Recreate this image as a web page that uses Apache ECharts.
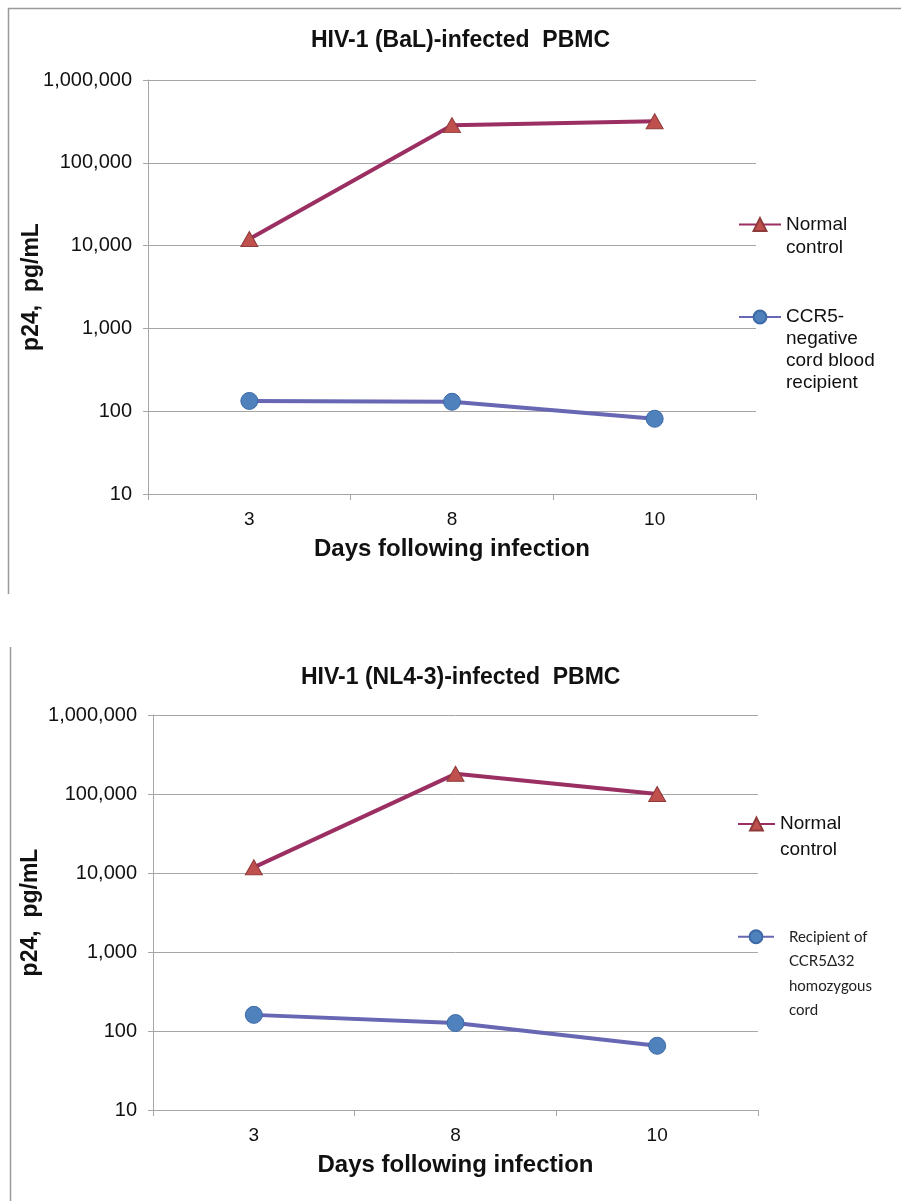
<!DOCTYPE html>
<html>
<head>
<meta charset="utf-8">
<script src="https://cdn.jsdelivr.net/npm/echarts@6/dist/echarts.min.js"></script>
<style>
html,body{margin:0;padding:0;background:#fff;}
#c{width:901px;height:1201px;}
</style>
</head>
<body>
<div id="c"></div>
<script>
// ---- data ----
const days = ['3', '8', '10'];
const balNormal = [12000, 285000, 318000];
const balCCR5 = [133, 130, 81];
const nl43Normal = [11800, 180000, 100000];
const nl43Recipient = [160, 126, 65];
const yTicks = [10, 100, 1000, 10000, 100000, 1000000];
const title1 = 'HIV-1 (BaL)-infected  PBMC';
const title2 = 'HIV-1 (NL4-3)-infected  PBMC';
const yName = 'p24,  pg/mL';
const xName = 'Days following infection';
const nameNormal = 'Normal control';
const nameCCR5 = 'CCR5-negative cord blood recipient';
const nameRecip = 'Recipient of CCR5\u039432 homozygous cord';
const legNormal = ['Normal', 'control'];
const legCCR5 = ['CCR5-', 'negative', 'cord blood', 'recipient'];
const legRecip = ['Recipient of', 'CCR5\u039432', 'homozygous', 'cord'];

const FONT = 'Liberation Sans, Arial, sans-serif';
const redLine = '#9B2F62', redFill = '#C0504D', redBorder = '#8E3A3A';
const blueLine = '#6767B4', blueFill = '#4F81BD', blueBorder = '#3C6AA6';
const gridColor = '#A6A6A6';

function fmt(v){ return Math.round(v).toLocaleString('en-US'); }
// prepend blank lines so the legend icon lines up with the first text line
function legText(lines){
  const pre = [];
  for (let i = 1; i < lines.length; i++) pre.push(' ');
  return pre.concat(lines).join('\n');
}

function xAxisOf(gi){
  return {
    gridIndex: gi, type: 'category', data: days, boundaryGap: true,
    axisLine: {lineStyle: {color: gridColor, width: 1}},
    axisTick: {show: true, length: 6, lineStyle: {color: gridColor}},
    axisLabel: {margin: 16, fontSize: 19, color: '#111', fontFamily: FONT},
    name: xName, nameLocation: 'middle', nameGap: 43, nameMoveOverlap: false,
    nameTextStyle: {fontSize: 24, fontWeight: 'bold', color: '#111', fontFamily: FONT}
  };
}
function yAxisOf(gi, gap){
  return {
    gridIndex: gi, type: 'log', logBase: 10,
    min: yTicks[0], max: yTicks[yTicks.length-1], interval: 1,
    axisLine: {show: true, lineStyle: {color: gridColor, width: 1}},
    axisTick: {show: true, length: 5, lineStyle: {color: gridColor}},
    splitLine: {show: true, lineStyle: {color: gridColor, width: 1}},
    minorTick: {show: false},
    axisLabel: {margin: 16, fontSize: 20, color: '#111', fontFamily: FONT, formatter: fmt},
    name: yName, nameLocation: 'middle', nameGap: gap, nameRotate: 90, nameMoveOverlap: false,
    nameTextStyle: {fontSize: 23, fontWeight: 'bold', color: '#111', fontFamily: FONT}
  };
}
function redSeries(gi, data){
  return {
    name: nameNormal, type: 'line', xAxisIndex: gi, yAxisIndex: gi, data: data,
    symbol: 'triangle', symbolSize: [17, 15], z: 3,
    lineStyle: {color: redLine, width: 4},
    itemStyle: {color: redFill, borderColor: redBorder, borderWidth: 1},
    emphasis: {disabled: true}, animation: false
  };
}
function blueSeries(gi, name, data){
  return {
    name: name, type: 'line', xAxisIndex: gi, yAxisIndex: gi, data: data,
    symbol: 'circle', symbolSize: 17, z: 3,
    lineStyle: {color: blueLine, width: 4},
    itemStyle: {color: blueFill, borderColor: blueBorder, borderWidth: 1},
    emphasis: {disabled: true}, animation: false
  };
}
function legendOf(name, left, top, iw, lines, ts){
  const txt = legText(lines);
  return {
    data: [name], left: left, top: top, padding: 0, orient: 'vertical',
    itemWidth: iw, itemHeight: 16, selectedMode: false,
    formatter: function(){ return txt; },
    textStyle: ts
  };
}

const chart = echarts.init(document.getElementById('c'), null, {renderer: 'canvas'});
chart.setOption({
  backgroundColor: '#fff',
  animation: false,
  title: [
    {text: title1, left: 306, top: 24, textStyle: {fontSize: 23, fontWeight: 'bold', color: '#111', fontFamily: FONT}},
    {text: title2, left: 296, top: 661, textStyle: {fontSize: 23, fontWeight: 'bold', color: '#111', fontFamily: FONT}}
  ],
  grid: [
    {left: 148, right: 145, top: 80, height: 414},
    {left: 153, right: 143, top: 715, height: 395}
  ],
  xAxis: [xAxisOf(0), xAxisOf(1)],
  yAxis: [yAxisOf(0, 105), yAxisOf(1, 111)],
  legend: [
    legendOf(nameNormal, 738, 190, 42, legNormal,
      {fontSize: 19, lineHeight: 23, color: '#111', fontFamily: FONT}),
    legendOf(nameCCR5, 738, 240, 42, legCCR5,
      {fontSize: 19, lineHeight: 22, color: '#111', fontFamily: FONT}),
    legendOf(nameNormal, 737, 785, 37, legNormal,
      {fontSize: 19, lineHeight: 26, color: '#111', fontFamily: FONT}),
    legendOf(nameRecip, 737, 851, 36, legRecip,
      {fontSize: 15, lineHeight: 24.5, color: '#222', fontFamily: 'Lato, sans-serif', padding: [0, 0, 0, 10]})
  ],
  graphic: [
    {type: 'line', shape: {x1: 8, y1: 8.5, x2: 901, y2: 8.5}, style: {stroke: '#9a9a9a', lineWidth: 1.5}, silent: true},
    {type: 'line', shape: {x1: 8.5, y1: 8, x2: 8.5, y2: 594}, style: {stroke: '#9a9a9a', lineWidth: 1.5}, silent: true},
    {type: 'line', shape: {x1: 10.5, y1: 647, x2: 10.5, y2: 1201}, style: {stroke: '#9a9a9a', lineWidth: 1.5}, silent: true}
  ],
  series: [
    redSeries(0, balNormal),
    blueSeries(0, nameCCR5, balCCR5),
    redSeries(1, nl43Normal),
    blueSeries(1, nameRecip, nl43Recipient)
  ]
});
</script>
</body>
</html>
